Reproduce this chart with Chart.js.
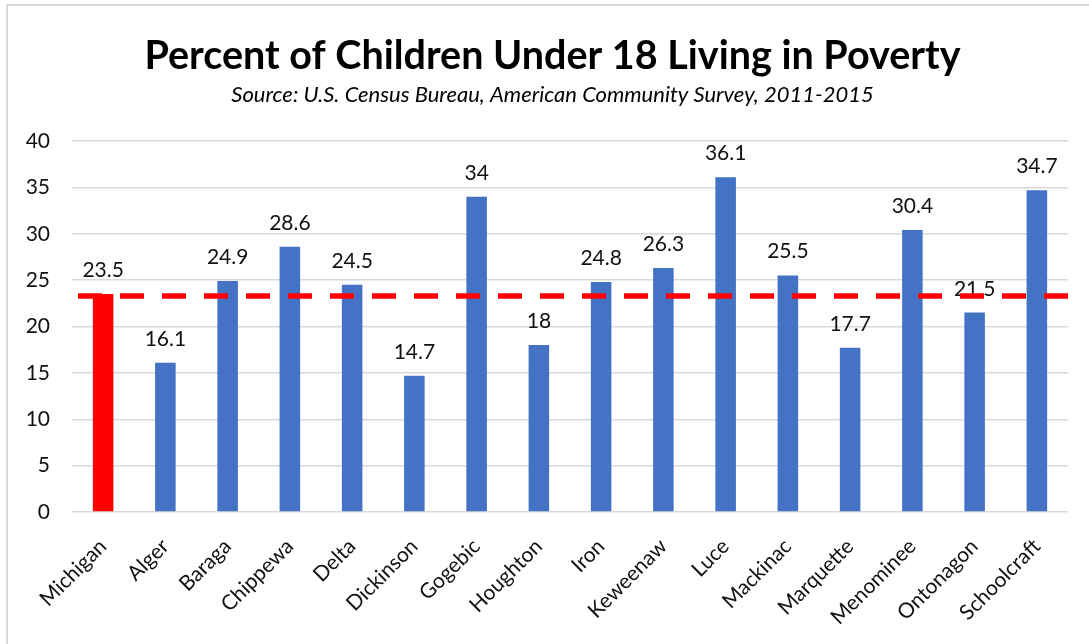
<!DOCTYPE html>
<html>
<head>
<meta charset="utf-8">
<script src="https://cdn.jsdelivr.net/npm/chart.js@4.4.1/dist/chart.umd.min.js"></script>
<style>
    body { margin: 0; background: #fff; }
    #frame {
        position: absolute; left: 6px; top: 4px; right: -10px; bottom: -10px;
        border-left: 2px solid #d9d9d9; border-top: 2px solid #d9d9d9;
    }
    #wrap { position: absolute; left: 0; top: 0; width: 1089px; height: 644px; }
</style>
</head>
<body>
<div id="frame"></div>
<div id="wrap"><canvas id="povertyChart"></canvas></div>
<script>
// Percent of children under 18 living in poverty, by county
const counties = ['Michigan', 'Alger', 'Baraga', 'Chippewa', 'Delta', 'Dickinson', 'Gogebic', 'Houghton',
    'Iron', 'Keweenaw', 'Luce', 'Mackinac', 'Marquette', 'Menominee', 'Ontonagon', 'Schoolcraft'];
const povertyPct = [23.5, 16.1, 24.9, 28.6, 24.5, 14.7, 34, 18, 24.8, 26.3, 36.1, 25.5, 17.7, 30.4, 21.5, 34.7];
const averageLine = 23.3;
const yTicks = [0, 5, 10, 15, 20, 25, 30, 35, 40];

const titleText = 'Percent of Children Under 18 Living in Poverty';
const subtitleText = 'Source: U.S. Census Bureau, American Community Survey, 2011-2015';

const FONT = 'Lato, "Open Sans", sans-serif';

const barColors = counties.map(c => c === 'Michigan' ? '#ff0000' : '#4472c4');

// title block, centred on the chart frame rather than the canvas
const headerPlugin = {
    id: 'header',
    afterDraw(chart) {
        const ctx = chart.ctx;
        const cx = (chart.width + 16) / 2;
        ctx.save();
        ctx.fillStyle = '#000';
        ctx.textAlign = 'center';
        ctx.textBaseline = 'middle';
        ctx.font = 'bold 39.5px ' + FONT;
        ctx.fillText(titleText, cx, 56);
        ctx.font = 'italic 22px ' + FONT;
        ctx.fillText(subtitleText, cx, 95);
        ctx.restore();
    }
};

// value labels + red dashed reference line
const overlayPlugin = {
    id: 'overlay',
    afterDatasetsDraw(chart) {
        const ctx = chart.ctx;
        const meta = chart.getDatasetMeta(0);
        const yScale = chart.scales.y;
        const area = chart.chartArea;

        ctx.save();
        ctx.font = '21px ' + FONT;
        ctx.fillStyle = '#111';
        ctx.textAlign = 'center';
        ctx.textBaseline = 'alphabetic';
        meta.data.forEach((bar, i) => {
            ctx.fillText(String(povertyPct[i]), bar.x, bar.y - 17);
        });

        const y = yScale.getPixelForValue(averageLine);
        ctx.strokeStyle = '#ff0000';
        ctx.lineWidth = 5.5;
        ctx.setLineDash([24, 18]);
        ctx.beginPath();
        ctx.moveTo(area.left + 6, y);
        ctx.lineTo(area.right, y);
        ctx.stroke();
        ctx.restore();
    }
};

const ctx = document.getElementById('povertyChart').getContext('2d');
new Chart(ctx, {
    type: 'bar',
    data: {
        labels: counties,
        datasets: [{
            data: povertyPct,
            backgroundColor: barColors,
            barPercentage: 0.66,
            categoryPercentage: 0.5
        }]
    },
    options: {
        responsive: true,
        maintainAspectRatio: false,
        animation: false,
        layout: {
            padding: { left: 8, right: 21, top: 141, bottom: 0 }
        },
        plugins: {
            legend: { display: false },
            tooltip: { enabled: false },
            title: { display: false }
        },
        scales: {
            x: {
                grid: { display: false },
                border: { display: false },
                ticks: {
                    color: '#111',
                    font: { family: FONT, size: 21 },
                    minRotation: 45,
                    maxRotation: 45,
                    padding: 14
                },
                afterFit(scale) { scale.height = 132; }
            },
            y: {
                min: 0,
                max: 40,
                grid: { color: '#d9d9d9', lineWidth: 1.5, drawTicks: false },
                border: { display: false },
                afterBuildTicks(scale) { scale.ticks = yTicks.map(v => ({ value: v })); },
                ticks: {
                    color: '#111',
                    font: { family: FONT, size: 21 },
                    padding: 22
                },
                afterFit(scale) { scale.width = 64; }
            }
        }
    },
    plugins: [headerPlugin, overlayPlugin]
});
</script>
</body>
</html>
